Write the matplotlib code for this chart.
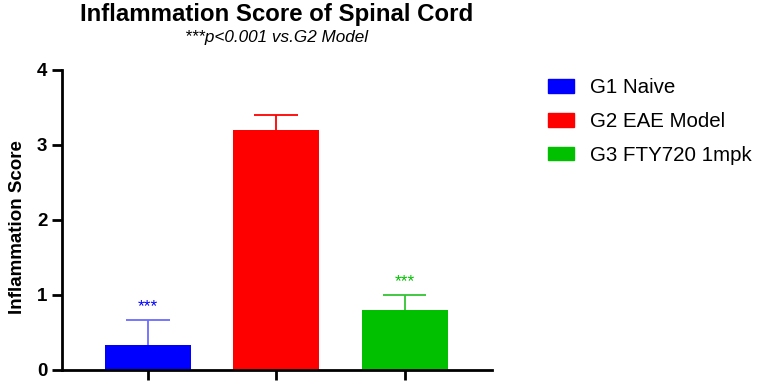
import numpy as np
import matplotlib.pyplot as plt
from matplotlib.patches import Patch

plt.rcParams['font.family'] = ['Liberation Sans', 'DejaVu Sans']

# данные
groups = ["G1 Naive", "G2 EAE Model", "G3 FTY720 1mpk"]
means = [0.33, 3.2, 0.8]
errs = [0.34, 0.2, 0.2]
stars = ["***", "", "***"]
bar_colors = ["#0000ff", "#ff0000", "#00c000"]
err_colors = ["#6b6bff", "#ff0000", "#33c433"]

fig = plt.figure(figsize=(7.65, 3.91), dpi=100)
ax = fig.add_axes([0.081, 0.054, 0.562, 0.767])

x = np.arange(len(groups))
ax.bar(x, means, width=0.67, color=bar_colors, zorder=2)
# усы погрешности: только вверх
ax.vlines(x, means, np.add(means, errs), colors=err_colors, linewidth=1.3, zorder=1)
ax.hlines(np.add(means, errs), x - 0.17, x + 0.17, colors=err_colors, linewidth=1.3, zorder=1)
for xi, m, e, s, c in zip(x, means, errs, stars, bar_colors):
    if s:
        ax.text(xi, m + e + 0.08, s, ha='center', va='bottom', color=c,
                fontsize=12.5)

ax.set_xlim(-0.67, 2.68)
ax.set_ylim(0, 4)
ax.set_yticks([0, 1, 2, 3, 4])
ax.set_xticks(x)
ax.set_xticklabels([])
for lab in ax.get_yticklabels():
    lab.set_fontweight('bold')
ax.tick_params(axis='both', width=2, length=7, labelsize=13.5)
ax.spines['top'].set_visible(False)
ax.spines['right'].set_visible(False)
ax.spines['left'].set_linewidth(2)
ax.spines['bottom'].set_linewidth(2)
ax.set_ylabel("Inflammation Score", fontsize=13.5, fontweight='bold')
ax.yaxis.set_label_coords(-0.084, 0.475)

fig.text(0.362, 0.962, "Inflammation Score of Spinal Cord", ha='center', va='center',
         fontsize=17.3, fontweight='bold')
fig.text(0.362, 0.903, "***p<0.001 vs.G2 Model", ha='center', va='center',
         fontsize=12.3, style='italic')

handles = [Patch(color=c) for c in bar_colors]
fig.legend(handles, groups, loc='upper left', bbox_to_anchor=(0.716, 0.80),
           frameon=False, fontsize=14.8, handlelength=1.3, handleheight=0.65,
           labelspacing=0.72, handletextpad=0.75, borderaxespad=0, borderpad=0)

plt.savefig("out.png", dpi=100)
